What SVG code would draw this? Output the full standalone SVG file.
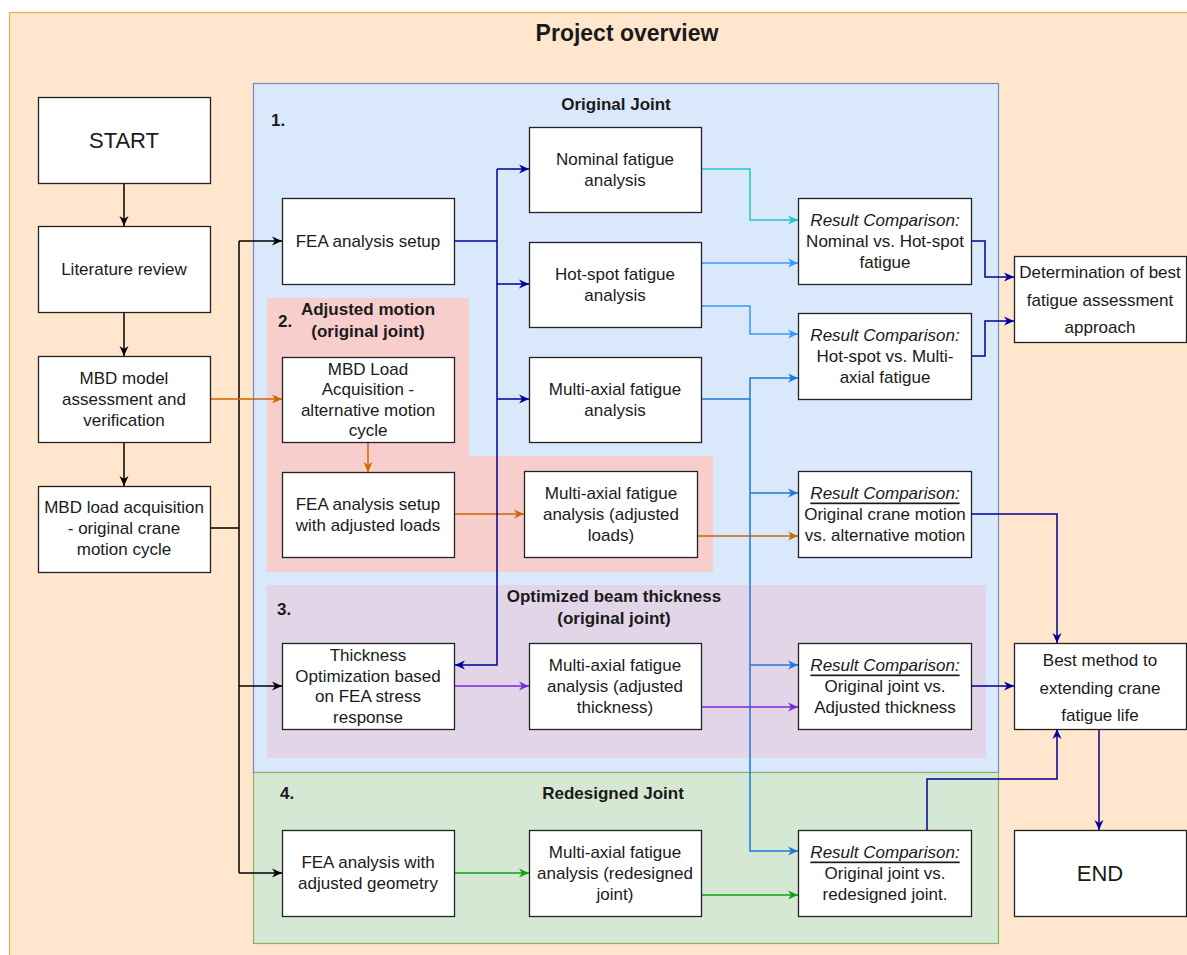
<svg xmlns="http://www.w3.org/2000/svg" width="1187" height="955" viewBox="0 0 1187 955">
<style>
.box{fill:#fff;stroke:#222;stroke-width:1.3}
.t{font-family:"Liberation Sans",Arial,sans-serif;font-size:17px;fill:#1a1a1a;text-anchor:middle;dominant-baseline:central}
.b{font-weight:bold}
.l{text-anchor:start}
.it{font-style:italic}
.u{text-decoration:underline}
.c{fill:none;stroke-width:1.5}
.k{stroke:#000}.o{stroke:#CC6600}.n{stroke:#000099}.cy{stroke:#22C5CB}.lb{stroke:#3399FF}.mb{stroke:#1F77D9}.p{stroke:#7A2AD8}.g{stroke:#11A011}
</style>
<defs>
<marker id="ak" viewBox="0 0 10 10" refX="10" refY="5" markerWidth="10" markerHeight="10" markerUnits="userSpaceOnUse" orient="auto"><path d="M0,0.5 L10,5 L0,9.5 L3,5 Z" fill="#000"/></marker>
<marker id="ao" viewBox="0 0 10 10" refX="10" refY="5" markerWidth="10" markerHeight="10" markerUnits="userSpaceOnUse" orient="auto"><path d="M0,0.5 L10,5 L0,9.5 L3,5 Z" fill="#CC6600"/></marker>
<marker id="an" viewBox="0 0 10 10" refX="10" refY="5" markerWidth="10" markerHeight="10" markerUnits="userSpaceOnUse" orient="auto"><path d="M0,0.5 L10,5 L0,9.5 L3,5 Z" fill="#000099"/></marker>
<marker id="acy" viewBox="0 0 10 10" refX="10" refY="5" markerWidth="10" markerHeight="10" markerUnits="userSpaceOnUse" orient="auto"><path d="M0,0.5 L10,5 L0,9.5 L3,5 Z" fill="#22C5CB"/></marker>
<marker id="alb" viewBox="0 0 10 10" refX="10" refY="5" markerWidth="10" markerHeight="10" markerUnits="userSpaceOnUse" orient="auto"><path d="M0,0.5 L10,5 L0,9.5 L3,5 Z" fill="#3399FF"/></marker>
<marker id="amb" viewBox="0 0 10 10" refX="10" refY="5" markerWidth="10" markerHeight="10" markerUnits="userSpaceOnUse" orient="auto"><path d="M0,0.5 L10,5 L0,9.5 L3,5 Z" fill="#1F77D9"/></marker>
<marker id="ap" viewBox="0 0 10 10" refX="10" refY="5" markerWidth="10" markerHeight="10" markerUnits="userSpaceOnUse" orient="auto"><path d="M0,0.5 L10,5 L0,9.5 L3,5 Z" fill="#7A2AD8"/></marker>
<marker id="ag" viewBox="0 0 10 10" refX="10" refY="5" markerWidth="10" markerHeight="10" markerUnits="userSpaceOnUse" orient="auto"><path d="M0,0.5 L10,5 L0,9.5 L3,5 Z" fill="#11A011"/></marker>
</defs>

<g id="containers">
<rect x="9.5" y="12.5" width="1200" height="960" fill="#ffe6cc" stroke="#d6b656" stroke-width="1.2"/>
<text class="t b" x="627" y="33" style="font-size:23px">Project overview</text>
<rect x="253.5" y="83.5" width="745" height="689" fill="#dae8fc" stroke="#6c8ebf" stroke-width="1.2"/>
<text class="t b" x="616" y="104">Original Joint</text>
<text class="t b l" x="271" y="120">1.</text>
<path d="M267,298 H469 V456 H713 V572 H267 Z" fill="#f8cecc"/>
<text class="t b l" x="278" y="321">2.</text>
<text class="t b" x="368" y="309">Adjusted motion</text>
<text class="t b" x="368" y="331">(original joint)</text>
<rect x="267" y="585" width="719" height="173" fill="#e1d5e7"/>
<text class="t b l" x="277" y="609">3.</text>
<text class="t b" x="614" y="596">Optimized beam thickness</text>
<text class="t b" x="614" y="618">(original joint)</text>
<rect x="253.5" y="772.5" width="745" height="171" fill="#d5e8d4" stroke="#82b366" stroke-width="1.2"/>
<text class="t b l" x="280" y="793">4.</text>
<text class="t b" x="613" y="793">Redesigned Joint</text>
</g>

<g id="connectors">
<path class="c k" d="M124,183 V226" marker-end="url(#ak)"/>
<path class="c k" d="M124,312 V356" marker-end="url(#ak)"/>
<path class="c k" d="M124,442 V486" marker-end="url(#ak)"/>
<path class="c k" d="M211,528 H239"/>
<path class="c k" d="M239,241 V873"/>
<path class="c k" d="M239,241 H282" marker-end="url(#ak)"/>
<path class="c k" d="M239,686 H282" marker-end="url(#ak)"/>
<path class="c k" d="M239,873 H282" marker-end="url(#ak)"/>
<path class="c o" d="M211,399 H282" marker-end="url(#ao)"/>
<path class="c o" d="M368,442 V472" marker-end="url(#ao)"/>
<path class="c o" d="M454,514 H524" marker-end="url(#ao)"/>
<path class="c o" d="M697,536 H798" marker-end="url(#ao)"/>
<path class="c n" d="M454,241 H497"/>
<path class="c n" d="M497,169 V665 H455" marker-end="url(#an)"/>
<path class="c n" d="M497,169 H529" marker-end="url(#an)"/>
<path class="c n" d="M497,284 H529" marker-end="url(#an)"/>
<path class="c n" d="M497,399 H529" marker-end="url(#an)"/>
<path class="c cy" d="M701,169 H750 V220 H798" marker-end="url(#acy)"/>
<path class="c lb" d="M701,263 H798" marker-end="url(#alb)"/>
<path class="c lb" d="M701,306 H750 V334 H798" marker-end="url(#alb)"/>
<path class="c mb" d="M701,399 H750 V378 H798" marker-end="url(#amb)"/>
<path class="c mb" d="M750,399 V851 H798" marker-end="url(#amb)"/>
<path class="c mb" d="M750,493 H798" marker-end="url(#amb)"/>
<path class="c mb" d="M750,665 H798" marker-end="url(#amb)"/>
<path class="c p" d="M455,686 H529" marker-end="url(#ap)"/>
<path class="c p" d="M701,707 H798" marker-end="url(#ap)"/>
<path class="c g" d="M454,873 H529" marker-end="url(#ag)"/>
<path class="c g" d="M701,895 H798" marker-end="url(#ag)"/>
<path class="c n" d="M971,241 H985 V277 H1014" marker-end="url(#an)"/>
<path class="c n" d="M971,356 H985 V321 H1014" marker-end="url(#an)"/>
<path class="c n" d="M971,514 H1057 V643" marker-end="url(#an)"/>
<path class="c n" d="M971,686 H1014" marker-end="url(#an)"/>
<path class="c n" d="M927,830 V779 H1057 V729" marker-end="url(#an)"/>
<path class="c n" d="M1099,729 V830" marker-end="url(#an)"/>
</g>

<g id="start"><rect class="box" x="38.5" y="97.5" width="172" height="86"/><text class="t" x="124" y="140" style="font-size:22px">START</text></g>
<g id="lit"><rect class="box" x="38.5" y="226.5" width="172" height="86"/><text class="t" x="124" y="269">Literature review</text></g>
<g id="mbdmodel"><rect class="box" x="38.5" y="356.5" width="172" height="86"/><text class="t" x="124" y="378">MBD model</text><text class="t" x="124" y="399">assessment and</text><text class="t" x="124" y="420">verification</text></g>
<g id="mbdload"><rect class="box" x="38.5" y="486.5" width="172" height="86"/><text class="t" x="124" y="507">MBD load acquisition</text><text class="t" x="124" y="528">- original crane</text><text class="t" x="124" y="549">motion cycle</text></g>

<g id="fea"><rect class="box" x="282.5" y="198.5" width="172" height="86"/><text class="t" x="368" y="241">FEA analysis setup</text></g>
<g id="nominal"><rect class="box" x="529.5" y="127.5" width="172" height="85"/><text class="t" x="615" y="159">Nominal fatigue</text><text class="t" x="615" y="180">analysis</text></g>
<g id="hotspot"><rect class="box" x="529.5" y="242.5" width="172" height="85"/><text class="t" x="615" y="274">Hot-spot fatigue</text><text class="t" x="615" y="295">analysis</text></g>
<g id="multiaxial"><rect class="box" x="529.5" y="357.5" width="172" height="85"/><text class="t" x="615" y="389">Multi-axial fatigue</text><text class="t" x="615" y="410">analysis</text></g>

<g id="mbdalt"><rect class="box" x="282.5" y="357.5" width="172" height="85"/><text class="t" x="368" y="369">MBD Load</text><text class="t" x="368" y="389.5">Acquisition -</text><text class="t" x="368" y="410">alternative motion</text><text class="t" x="368" y="430.5">cycle</text></g>
<g id="feaadj"><rect class="box" x="282.5" y="472.5" width="172" height="85"/><text class="t" x="368" y="504">FEA analysis setup</text><text class="t" x="368" y="525">with adjusted loads</text></g>
<g id="multiadj"><rect class="box" x="524.5" y="471.5" width="173" height="86"/><text class="t" x="611" y="493">Multi-axial fatigue</text><text class="t" x="611" y="514">analysis (adjusted</text><text class="t" x="611" y="535">loads)</text></g>

<g id="thick"><rect class="box" x="282.5" y="643.5" width="172" height="86"/><text class="t" x="368" y="655.5">Thickness</text><text class="t" x="368" y="676">Optimization based</text><text class="t" x="368" y="696.5">on FEA stress</text><text class="t" x="368" y="717">response</text></g>
<g id="multithk"><rect class="box" x="529.5" y="643.5" width="172" height="86"/><text class="t" x="615" y="665">Multi-axial fatigue</text><text class="t" x="615" y="686">analysis (adjusted</text><text class="t" x="615" y="707">thickness)</text></g>

<g id="feageo"><rect class="box" x="282.5" y="830.5" width="172" height="86"/><text class="t" x="368" y="862">FEA analysis with</text><text class="t" x="368" y="883">adjusted geometry</text></g>
<g id="multired"><rect class="box" x="529.5" y="830.5" width="172" height="86"/><text class="t" x="615" y="852">Multi-axial fatigue</text><text class="t" x="615" y="873">analysis (redesigned</text><text class="t" x="615" y="894">joint)</text></g>

<g id="r1"><rect class="box" x="798.5" y="198.5" width="173" height="86"/><text class="t it" x="885" y="220">Result Comparison:</text><text class="t" x="885" y="241">Nominal vs. Hot-spot</text><text class="t" x="885" y="262">fatigue</text></g>
<g id="r2"><rect class="box" x="798.5" y="313.5" width="173" height="86"/><text class="t it" x="885" y="335">Result Comparison:</text><text class="t" x="885" y="356">Hot-spot vs. Multi-</text><text class="t" x="885" y="377">axial fatigue</text></g>
<g id="r3"><rect class="box" x="798.5" y="471.5" width="173" height="86"/><text class="t it u" x="885" y="493">Result Comparison:</text><text class="t" x="885" y="514">Original crane motion</text><text class="t" x="885" y="535">vs. alternative motion</text></g>
<g id="r4"><rect class="box" x="798.5" y="643.5" width="173" height="86"/><text class="t it u" x="885" y="665">Result Comparison:</text><text class="t" x="885" y="686">Original joint vs.</text><text class="t" x="885" y="707">Adjusted thickness</text></g>
<g id="r5"><rect class="box" x="798.5" y="830.5" width="173" height="86"/><text class="t it u" x="885" y="852">Result Comparison:</text><text class="t" x="885" y="873">Original joint vs.</text><text class="t" x="885" y="894">redesigned joint.</text></g>

<g id="determination"><rect class="box" x="1014.5" y="256.5" width="172" height="86"/><text class="t" x="1100" y="272">Determination of best</text><text class="t" x="1100" y="300">fatigue assessment</text><text class="t" x="1100" y="327">approach</text></g>
<g id="best"><rect class="box" x="1014.5" y="643.5" width="172" height="86"/><text class="t" x="1100" y="660">Best method to</text><text class="t" x="1100" y="688">extending crane</text><text class="t" x="1100" y="715">fatigue life</text></g>
<g id="end"><rect class="box" x="1014.5" y="830.5" width="172" height="86"/><text class="t" x="1100" y="873" style="font-size:22px">END</text></g>
</svg>
